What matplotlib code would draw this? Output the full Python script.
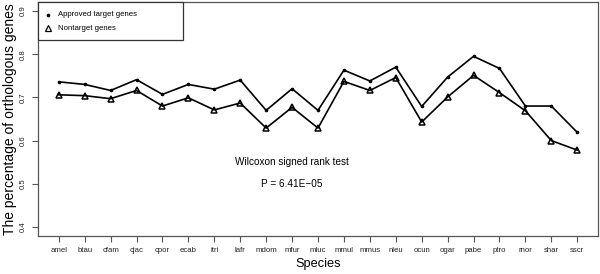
import matplotlib
matplotlib.use("Agg")
import matplotlib.pyplot as plt
from matplotlib.lines import Line2D
from matplotlib.patches import Rectangle

species = ["amel", "btau", "cfam", "cjac", "cpor", "ecab", "itri", "lafr", "mdom", "mfur",
           "mluc", "mmul", "mmus", "nleu", "ocun", "ogar", "pabe", "ptro", "rnor", "shar", "sscr"]
approved = [0.736, 0.730, 0.716, 0.741, 0.707, 0.730, 0.719, 0.740, 0.670, 0.720,
            0.670, 0.763, 0.738, 0.770, 0.679, 0.747, 0.795, 0.767, 0.680, 0.680, 0.619]
nontarget = [0.706, 0.704, 0.697, 0.716, 0.680, 0.699, 0.671, 0.687, 0.629, 0.677,
             0.629, 0.737, 0.716, 0.746, 0.643, 0.701, 0.751, 0.711, 0.669, 0.600, 0.578]
yticks = [0.4, 0.5, 0.6, 0.7, 0.8, 0.9]
legend_labels = ["Approved target genes", "Nontarget genes"]
annot = ["Wilcoxon signed rank test", "P = 6.41E\u221205"]

plt.rcParams['font.family'] = ['Liberation Sans', 'DejaVu Sans']

W, H = 600, 274
fig = plt.figure(figsize=(W/100, H/100), dpi=100)
ax = fig.add_axes([38/W, 1-235.7/H, 560/W, 233.4/H])

spine_col = '#555555'
x = list(range(1, len(species)+1))
ax.plot(x, approved, color='black', lw=1.2, marker='o', markersize=1.6)
ax.plot(x, nontarget, color='black', lw=1.2, marker='^', markersize=4.0,
        markerfacecolor='none', markeredgewidth=1.1)

ax.set_xlim(1 - 0.8, len(species) + 0.8)
ax.set_ylim(0.4 - 0.02, 0.9 + 0.02)
ax.set_xticks(x)
ax.set_xticklabels(species, fontsize=5.6)
ax.set_yticks(yticks)
ax.set_yticklabels([f"{v:.1f}" for v in yticks], fontsize=5.6, rotation=90, va='center')
ax.tick_params(direction='out', length=4, width=0.8, pad=4, color=spine_col, labelcolor='#222222')
for s in ax.spines.values():
    s.set_linewidth(0.9)
    s.set_color(spine_col)

ax.set_xlabel("Species", fontsize=9.2, labelpad=3)
ax.set_ylabel("The percentage of orthologous genes", fontsize=10, labelpad=2)

ax.text(10, 0.551, annot[0], fontsize=7.2, ha='center', va='center')
ax.text(10, 0.499, annot[1], fontsize=7.2, ha='center', va='center')

# legend drawn as in R: box at the top-left corner of the plot
def fx(px):
    return px / W
def fy(py):
    return 1 - py / H

fig.patches.append(Rectangle((fx(37.5), fy(40)), fx(183) - fx(37.5), fy(2.3) - fy(40),
                             transform=fig.transFigure, facecolor='white',
                             edgecolor='#333333', lw=0.9, zorder=5))
fig.lines.append(Line2D([fx(48)], [fy(15)], transform=fig.transFigure, ls='none',
                        marker='o', markersize=1.6, color='black', zorder=6))
fig.lines.append(Line2D([fx(48)], [fy(28)], transform=fig.transFigure, ls='none',
                        marker='^', markersize=4.0, markerfacecolor='none',
                        markeredgecolor='black', markeredgewidth=0.9, zorder=6))
fig.text(fx(58), fy(15), legend_labels[0], fontsize=5.6, va='center', ha='left', zorder=6)
fig.text(fx(58), fy(28), legend_labels[1], fontsize=5.6, va='center', ha='left', zorder=6)

fig.savefig("out.png", dpi=100)
